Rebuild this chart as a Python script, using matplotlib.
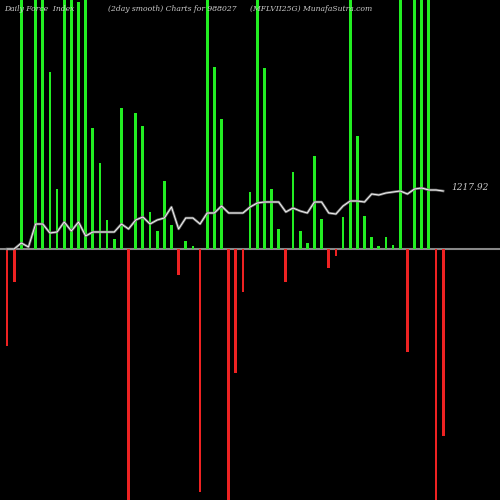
import matplotlib
matplotlib.use("Agg")
import matplotlib.pyplot as plt
import numpy as np

# bar values (pixel-scale units above/below zero line); 260/-260 = off chart
bars = [-97,-33,260,0,260,260,177,60,260,260,247,260,121,86,29,10,141,-260,136,123,
        37,18,68,24,-26,8,3,-243,260,182,130,-260,-124,-43,57,260,181,60,20,-33,
        77,18,6,93,30,-19,-7,32,260,113,33,12,3,12,4,260,-103,260,260,260,-260,-187]
line = [0,0,6,2,25,25,16,17,27,18,27,13,17,17,17,17,25,20,29,32,
        25,29,31,42,20,31,31,25,36,36,43,36,36,36,42,46,47,47,47,37,
        41,38,36,47,47,36,35,43,48,48,47,55,54,56,57,58,55,60,61,59,59,58]
last_label = "1217.92"

fig = plt.figure(figsize=(5,5), dpi=100, facecolor="black")
ax = fig.add_axes([0,0,1,1], facecolor="black")
x = np.arange(len(bars))
cols = ["#22ee22" if v >= 0 else "#ee2222" for v in bars]
ax.bar(x, bars, width=0.38, color=cols, zorder=2)
ax.axhline(0, color="#888888", lw=1.5, zorder=1)
ax.plot(x, line, color="#777777", lw=1.8, zorder=3)
ax.plot(x, line, color="#ffffff", lw=0.6, zorder=4)
ax.set_xlim(-0.98, 68.95)
ax.set_ylim(-251, 249)
ax.axis("off")
ax.text(62.2, line[-1]+3, last_label, color="#cccccc", fontsize=6.5, style="italic",
        family="DejaVu Serif", va="center")
kw = dict(color="#cccccc", fontsize=5.5, style="italic", family="DejaVu Serif", va="top")
fig.text(0.008, 0.99, "Daily Force  Index", **kw)
fig.text(0.215, 0.99, "(2day smooth) Charts for 988027", **kw)
fig.text(0.5, 0.99, "(MFLVII25G) MunafaSutra.com", **kw)
fig.savefig("out.png", dpi=100, facecolor="black")
